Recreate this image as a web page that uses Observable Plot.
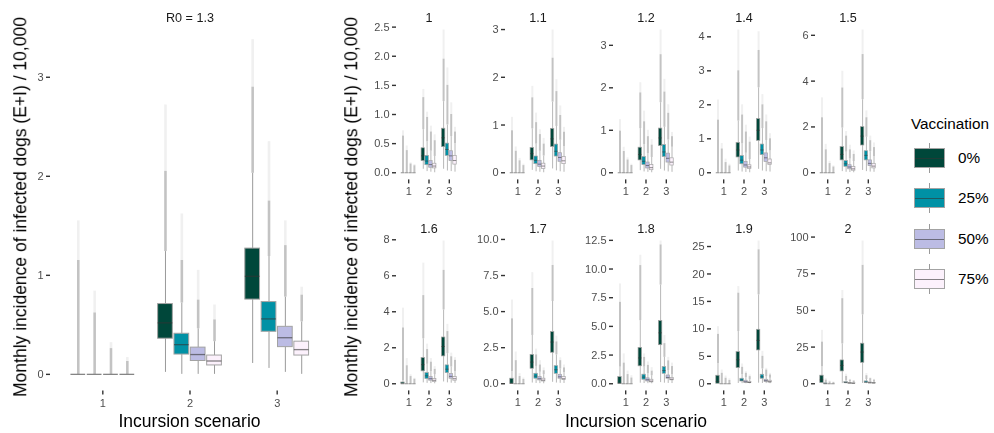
<!DOCTYPE html>
<html>
<head>
<meta charset="utf-8">
<script src="https://cdn.jsdelivr.net/npm/d3@7"></script>
<script src="https://cdn.jsdelivr.net/npm/@observablehq/plot@0.6"></script>
<style>
  html, body { margin: 0; padding: 0; background: #fff; }
  #root { position: relative; width: 994px; height: 433px; overflow: hidden; background: #fff;
          font-family: "Liberation Sans", Arial, Helvetica, sans-serif; color: #000; }
  .abs { position: absolute; will-change: transform; }
  .ytitle { position: absolute; white-space: nowrap; font-size: 17.5px; line-height: 1;
            transform: translate(-50%, -50%) rotate(-90deg); }
  .xtitle { position: absolute; white-space: nowrap; font-size: 17.5px; line-height: 1;
            transform: translate(-50%, -50%); }
  .legtitle { position: absolute; font-size: 15.3px; line-height: 1; white-space: nowrap; }
  .leglab { position: absolute; font-size: 15.3px; line-height: 1; white-space: nowrap; transform: translateY(-50%); }
</style>
</head>
<body>
<div id="root"></div>
<script>
// ---------------- DATA ----------------
const vaccLevels = ["0%", "25%", "50%", "75%"];
const vaccColors = ["#00473A", "#0091A5", "#BCBCE4", "#FCF1FC"];
const scenarios = [1, 2, 3];
// each row: [lower whisker, Q1, median, Q3, upper whisker, top of dense outliers, max outlier]
// rows ordered: scenario 1 (0%,25%,50%,75%), scenario 2 (...), scenario 3 (...)
const stats_1_3 = [
  [0,0,0,0,0,1.15,1.55],[0,0,0,0,0,0.62,0.84],[0,0,0,0,0,0.26,0.32],[0,0,0,0,0,0.13,0.17],
  [0.02,0.36,0.52,0.71,1.24,2.05,2.72],[0,0.20,0.30,0.41,0.72,1.15,1.62],[0,0.135,0.20,0.27,0.46,0.75,1.05],[0,0.09,0.135,0.19,0.33,0.55,0.70],
  [0.11,0.755,0.99,1.27,2.03,2.9,3.38],[0.06,0.43,0.56,0.73,1.19,1.75,2.35],[0.02,0.275,0.37,0.48,0.78,1.3,1.55],[0,0.19,0.25,0.33,0.53,0.8,0.88]
];
const stats_1 = [
  [0,0,0,0,0,0.63,0.72],[0,0,0,0,0,0.38,0.46],[0,0,0,0,0,0.15,0.17],[0,0,0,0,0,0.12,0.14],
  [0.06,0.20,0.29,0.42,0.74,1.29,1.43],[0.02,0.13,0.20,0.29,0.53,0.95,1.04],[0.01,0.086,0.14,0.20,0.37,0.70,0.80],[0,0.075,0.115,0.155,0.28,0.55,0.65],
  [0.06,0.44,0.60,0.756,1.22,1.95,2.45],[0.03,0.29,0.40,0.50,0.82,1.5,1.8],[0.02,0.20,0.29,0.37,0.62,1.0,1.2],[0.01,0.14,0.21,0.29,0.50,0.70,0.78]
];
const stats_1_1 = [
  [0,0,0,0,0,0.88,1.16],[0,0,0,0,0,0.45,0.54],[0,0,0,0,0,0.25,0.30],[0,0,0,0,0,0.15,0.18],
  [0.05,0.26,0.40,0.52,0.92,1.57,1.81],[0.02,0.18,0.26,0.34,0.60,1.05,1.25],[0.01,0.12,0.18,0.25,0.45,0.80,0.90],[0,0.08,0.14,0.19,0.35,0.60,0.72],
  [0.08,0.54,0.71,0.92,1.48,2.4,2.99],[0.04,0.34,0.45,0.59,0.97,1.7,1.95],[0.02,0.23,0.32,0.41,0.68,1.2,1.4],[0.01,0.18,0.25,0.33,0.55,0.85,0.95]
];
const stats_1_2 = [
  [0,0,0,0,0,0.98,1.25],[0,0,0,0,0,0.5,0.6],[0,0,0,0,0,0.3,0.35],[0,0,0,0,0,0.17,0.2],
  [0.05,0.29,0.43,0.59,1.04,1.88,2.12],[0.02,0.18,0.27,0.37,0.66,1.2,1.45],[0.01,0.10,0.17,0.24,0.45,0.85,1.0],[0,0.06,0.12,0.18,0.36,0.65,0.78],
  [0.08,0.63,0.82,1.04,1.65,2.78,3.36],[0.04,0.37,0.49,0.65,1.07,1.9,2.2],[0.02,0.24,0.34,0.45,0.77,1.4,1.6],[0.01,0.17,0.25,0.34,0.6,0.85,0.95]
];
const stats_1_4 = [
  [0,0,0,0,0,1.55,2.14],[0,0,0,0,0,0.7,0.86],[0,0,0,0,0,0.3,0.4],[0,0,0,0,0,0.2,0.25],
  [0.05,0.45,0.67,0.88,1.52,3.0,4.2],[0.02,0.25,0.37,0.49,0.85,1.7,2.0],[0.01,0.15,0.23,0.32,0.575,1.2,1.4],[0,0.11,0.17,0.22,0.39,0.9,1.05],
  [0.1,0.94,1.25,1.58,2.5,3.6,4.15],[0.05,0.52,0.67,0.83,1.3,2.0,2.3],[0.03,0.32,0.44,0.57,0.95,1.5,1.7],[0.02,0.23,0.29,0.39,0.64,1.0,1.15]
];
const stats_1_5 = [
  [0,0,0,0,0,2.4,3.27],[0,0,0,0,0,1.0,1.24],[0,0,0,0,0,0.4,0.5],[0,0,0,0,0,0.25,0.3],
  [0.05,0.54,0.80,1.12,1.95,3.7,4.43],[0.02,0.26,0.39,0.51,0.9,1.6,1.8],[0.01,0.15,0.25,0.33,0.6,1.0,1.2],[0,0.09,0.17,0.25,0.49,0.8,0.95],
  [0.1,1.19,1.6,1.99,3.19,5.16,6.23],[0.05,0.54,0.76,0.94,1.55,2.4,2.7],[0.03,0.29,0.41,0.54,0.92,1.4,1.6],[0.02,0.19,0.29,0.39,0.7,1.1,1.3]
];
const stats_1_6 = [
  [0,0,0,0.07,0.17,3.1,4.2],[0,0,0,0,0,1.0,1.4],[0,0,0,0,0,0.4,0.5],[0,0,0,0,0,0.25,0.3],
  [0.05,0.69,1.06,1.43,2.5,4.9,6.7],[0.02,0.26,0.44,0.59,1.08,1.9,2.2],[0.01,0.17,0.28,0.37,0.67,1.2,1.4],[0,0.09,0.19,0.26,0.51,0.8,0.95],
  [0.1,1.52,2.07,2.57,4.1,6.3,7.93],[0.05,0.59,0.81,1.02,1.67,2.9,3.3],[0.03,0.28,0.41,0.54,0.93,1.5,1.7],[0.02,0.17,0.28,0.37,0.67,1.3,1.45]
];
const stats_1_7 = [
  [0,0,0.02,0.35,0.85,4.5,5.8],[0,0,0,0,0,1.6,2.2],[0,0,0,0,0,0.5,0.7],[0,0,0,0,0,0.3,0.4],
  [0.05,1.04,1.5,2.0,3.35,6.6,7.7],[0.02,0.35,0.53,0.69,1.2,2.0,2.4],[0.01,0.23,0.35,0.46,0.8,1.3,1.6],[0,0.16,0.25,0.35,0.63,0.9,1.1],
  [0.1,2.15,2.89,3.58,5.7,8.2,9.89],[0.05,0.69,0.97,1.22,2.0,2.9,3.3],[0.03,0.35,0.48,0.62,1.02,1.6,1.8],[0.02,0.25,0.35,0.46,0.77,1.1,1.3]
];
const stats_1_8 = [
  [0,0,0.05,0.58,1.45,7.1,8.7],[0,0,0,0,0,1.8,2.6],[0,0,0,0,0,0.8,1.1],[0,0,0,0,0,0.5,0.7],
  [0.05,1.52,2.25,3.13,5.5,10.3,11.2],[0.02,0.35,0.58,0.79,1.45,2.3,2.6],[0.01,0.2,0.35,0.47,0.87,1.6,1.9],[0,0.12,0.23,0.35,0.7,1.1,1.4],
  [0.1,3.36,4.44,5.47,8.6,12.1,12.44],[0.05,0.87,1.15,1.45,2.3,3.5,4.2],[0.03,0.44,0.55,0.72,1.14,2.0,2.3],[0.02,0.3,0.4,0.5,0.8,1.5,1.8]
];
const stats_1_9 = [
  [0,0,0.42,1.46,3.65,9.0,10.4],[0,0,0,0,0,1.9,2.5],[0,0,0,0,0,1.0,1.4],[0,0,0,0,0,0.6,0.9],
  [0.05,2.85,4.37,5.76,9.5,16.5,17.7],[0.02,0.42,0.67,0.91,1.65,3.0,3.6],[0.01,0.18,0.36,0.55,1.1,1.9,2.2],[0,0.12,0.24,0.36,0.72,1.3,1.6],
  [0.1,6.07,7.9,9.83,16.2,24.4,26.0],[0.05,0.91,1.27,1.64,2.7,5.0,5.9],[0.03,0.36,0.55,0.73,1.29,2.5,2.8],[0.02,0.24,0.36,0.55,1.0,1.6,1.9]
];
const stats_2 = [
  [0,0.5,2.7,5.5,11.5,28.4,36.4],[0,0,0,0.3,0.6,2.5,3.5],[0,0,0,0,0,1.2,1.8],[0,0,0,0,0,0.8,1.2],
  [0.1,8.4,12.5,15.9,27.2,58,63.6],[0.02,0.45,0.8,1.1,2.0,5,6.5],[0.01,0.2,0.4,0.6,1.2,2.5,3],[0,0.1,0.25,0.4,0.85,1.8,2.2],
  [0.2,14.3,21.6,27.3,47,80.7,97.3],[0.05,0.7,1.1,1.6,2.9,5.5,7],[0.03,0.4,0.6,0.9,1.6,3.5,4],[0.02,0.3,0.45,0.6,1.05,2.5,3]
];
// small-multiple panels (facet label, stats, y tick values, y tick labels)
const smallTitles = ["1", "1.1", "1.2", "1.4", "1.5", "1.6", "1.7", "1.8", "1.9", "2"];
const smallStats = [stats_1, stats_1_1, stats_1_2, stats_1_4, stats_1_5, stats_1_6, stats_1_7, stats_1_8, stats_1_9, stats_2];
const smallTicks = [
  [0, 0.5, 1, 1.5, 2, 2.5], [0, 1, 2, 3], [0, 1, 2, 3], [0, 1, 2, 3, 4], [0, 2, 4, 6],
  [0, 2, 4, 6, 8], [0, 2.5, 5, 7.5, 10], [0, 2.5, 5, 7.5, 10, 12.5], [0, 5, 10, 15, 20, 25], [0, 25, 50, 75, 100]
];
const smallTickLabels = [
  ["0.0","0.5","1.0","1.5","2.0","2.5"], ["0","1","2","3"], ["0","1","2","3"], ["0","1","2","3","4"], ["0","2","4","6"],
  ["0","2","4","6","8"], ["0.0","2.5","5.0","7.5","10.0"], ["0.0","2.5","5.0","7.5","10.0","12.5"], ["0","5","10","15","20","25"], ["0","25","50","75","100"]
];
const mainTitle = "R0 = 1.3";
const mainTicks = [0, 1, 2, 3];
const mainTickLabels = ["0", "1", "2", "3"];
const yTitle = "Monthly incidence of infected dogs (E+I) / 10,000";
const xTitle = "Incursion scenario";
const legendTitle = "Vaccination";

// ---------------- DRAWING ----------------
const FONT = '"Liberation Sans", Arial, Helvetica, sans-serif';
const root = document.getElementById("root");

function toRows(stats) {
  return stats.map((s, i) => ({
    scenario: scenarios[Math.floor(i / 4)], vi: i % 4, vacc: vaccLevels[i % 4],
    lo: s[0], q1: s[1], med: s[2], q3: s[3], hi: s[4], dense: s[5], max: s[6]
  }));
}
const DODGE = 0.75 / 4;           // dodge slot width
const HALF = 0.9 * DODGE / 2;      // half box width
const pos = d => d.scenario + (d.vi - 1.5) * DODGE;

function panel({stats, ticks, tickLabels, title, panelW, panelH, mL, mR, mT, mB, streakW, lineW, xPad}) {
  const rows = toRows(stats);
  const M = d3.max(rows, d => d.max);
  const lab = new Map(ticks.map((t, i) => [t, tickLabels[i]]));
  return Plot.plot({
    width: mL + panelW + mR, height: mT + panelH + mB,
    marginLeft: mL, marginRight: mR, marginTop: mT, marginBottom: mB,
    style: {background: "transparent", fontFamily: FONT, overflow: "visible"},
    x: {domain: [0.4, 3.6], axis: null},
    y: {domain: [-0.05 * M, 1.05 * M], axis: null},
    color: {domain: vaccLevels, range: vaccColors},
    marks: [
      Plot.axisX({ticks: scenarios, tickFormat: d => String(d), tickSize: 4, tickPadding: xPad,
                  stroke: "#333", strokeWidth: 1.4, fill: "#4d4d4d", fontSize: 11, label: null}),
      Plot.axisY({ticks, tickFormat: d => lab.get(d), tickSize: 4, tickPadding: 3,
                  stroke: "#333", strokeWidth: 1.4, fill: "#4d4d4d", fontSize: 11, label: null}),
      Plot.ruleX(rows, {x: pos, y1: "lo", y2: "q1", stroke: "#9a9a9a", strokeWidth: lineW}),
      Plot.ruleX(rows, {x: pos, y1: "q3", y2: "hi", stroke: "#9a9a9a", strokeWidth: lineW}),
      Plot.ruleX(rows, {x: pos, y1: "hi", y2: "dense", stroke: "#bcbcbc", strokeWidth: streakW, strokeOpacity: 0.9}),
      Plot.ruleX(rows, {x: pos, y1: "dense", y2: "max", stroke: "#bcbcbc", strokeWidth: streakW, strokeOpacity: 0.22}),
      Plot.rect(rows, {x1: d => pos(d) - HALF, x2: d => pos(d) + HALF, y1: "q1", y2: "q3",
                       fill: "vacc", stroke: "#a3a3a3", strokeWidth: lineW}),
      Plot.ruleY(rows, {y: "med", x1: d => pos(d) - HALF, x2: d => pos(d) + HALF,
                        stroke: "#333", strokeOpacity: 0.6, strokeWidth: lineW * 1.3}),
      Plot.text([title], {text: d => d, frameAnchor: "top", dy: -9.8, fontSize: 12.6, fill: "#1a1a1a"})
    ]
  });
}

function place(el, left, top) {
  const d = document.createElement("div");
  d.className = "abs";
  d.style.left = left + "px";
  d.style.top = top + "px";
  d.appendChild(el);
  root.appendChild(d);
  return d;
}

// main panel
const PT = 22.4, PB = 390.6;
place(panel({stats: stats_1_3, ticks: mainTicks, tickLabels: mainTickLabels, title: mainTitle,
             panelW: 279, panelH: PB - PT, mL: 50, mR: 4, mT: PT, mB: 433 - PB,
             streakW: 2.6, lineW: 1, xPad: 4}), 0, 0);

// small panels
const colCenters = [428.5, 537, 645, 743, 847.5];
const SW = 65, SH = 157;
const rowTops = [22.4, 233.6];
smallStats.forEach((st, i) => {
  const c = i % 5, r = Math.floor(i / 5);
  const mL = 36, mT = 22.4;
  const el = panel({stats: st, ticks: smallTicks[i], tickLabels: smallTickLabels[i], title: smallTitles[i],
                    panelW: SW, panelH: SH, mL, mR: 3, mT, mB: 30, streakW: 2, lineW: 0.7, xPad: 3});
  place(el, colCenters[c] - SW / 2 - mL, rowTops[r] - mT);
});

// axis titles
function addText(cls, txt, x, y) {
  const d = document.createElement("div");
  d.className = cls; d.textContent = txt;
  d.style.left = x + "px"; d.style.top = y + "px";
  root.appendChild(d);
}
addText("ytitle", yTitle, 20.5, 207);
addText("ytitle", yTitle, 352, 207);
addText("xtitle", xTitle, 189.5, 421.5);
addText("xtitle", xTitle, 636, 421.5);

// legend
addText("legtitle", legendTitle, 911, 115.5);
vaccLevels.forEach((v, i) => {
  const top = 148 + i * 40.3;
  const key = document.createElement("div");
  key.className = "abs";
  key.style.cssText = `left:914px;top:${top - 5}px;width:31px;height:30px;`;
  key.innerHTML =
    `<div style="position:absolute;left:15px;top:0;width:1px;height:30px;background:#9a9a9a"></div>` +
    `<div style="position:absolute;left:0;top:5px;width:29px;height:18px;background:${vaccColors[i]};border:1px solid #a3a3a3"></div>` +
    `<div style="position:absolute;left:1px;top:14.5px;width:29px;height:1.2px;background:rgba(51,51,51,0.6)"></div>`;
  root.appendChild(key);
  addText("leglab", v, 958, top + 10);
});
</script>
</body>
</html>
